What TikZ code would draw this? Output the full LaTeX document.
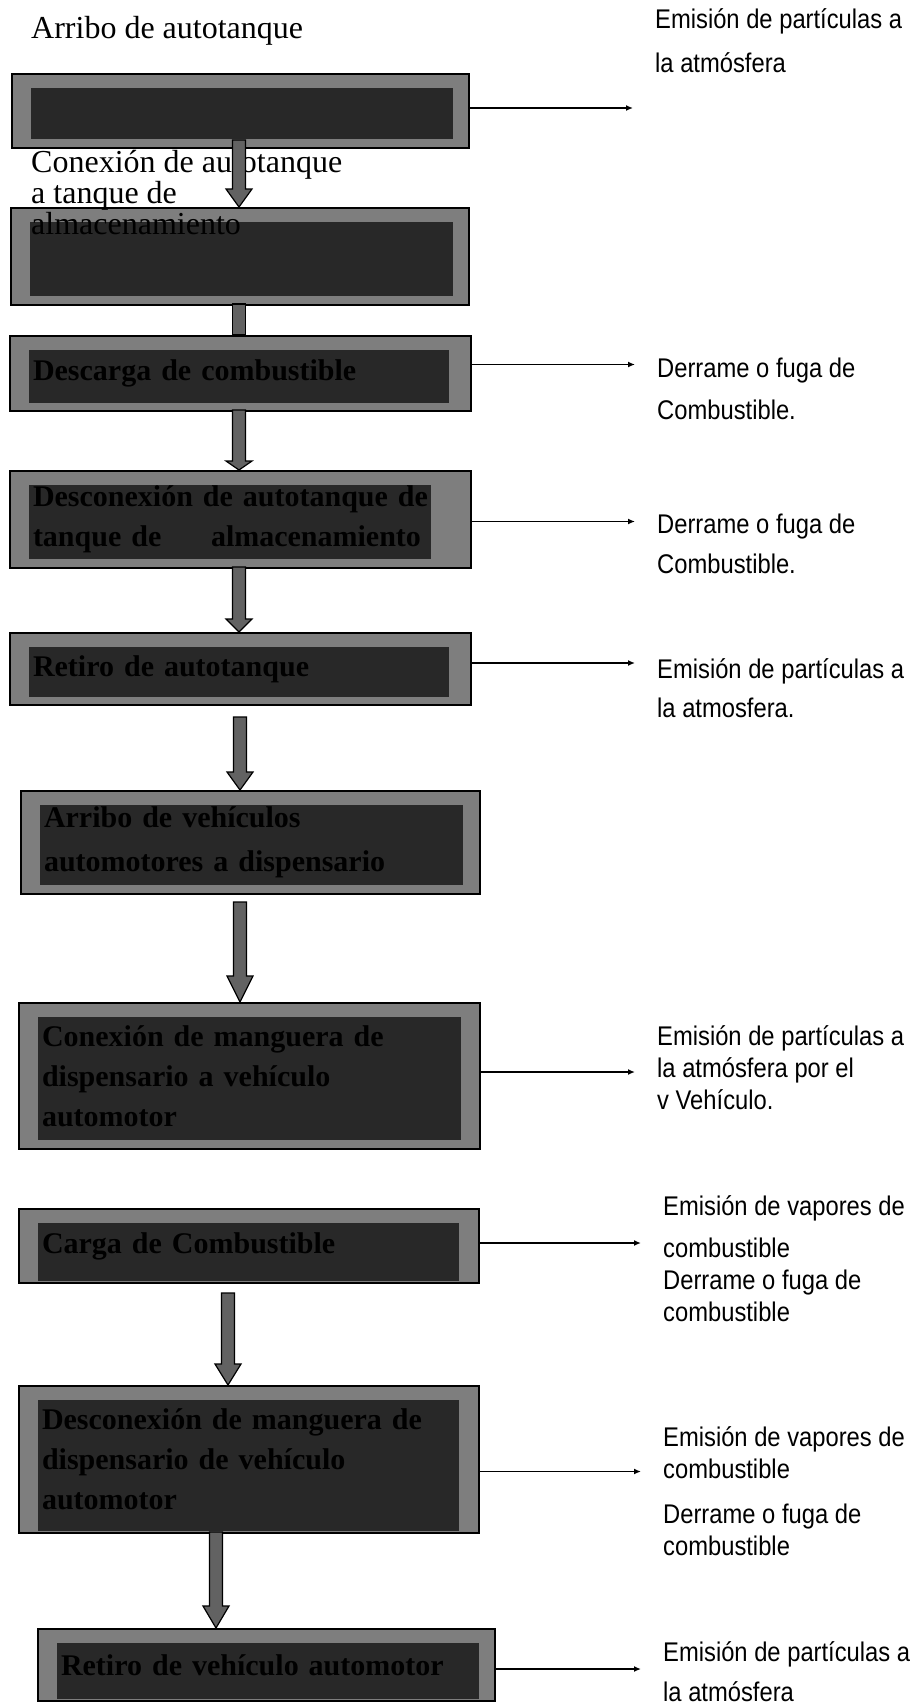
\documentclass[tikz,border=0pt]{standalone}
\usepackage{fontspec}
\setmainfont{Liberation Serif}
\newfontfamily\etiqfont[FakeStretch=0.88]{Liberation Sans}
\usepackage{tikz}
\usetikzlibrary{positioning}
\usetikzlibrary{calc}
\usetikzlibrary{arrows.meta}

\definecolor{banda}{RGB}{126,126,126}
\definecolor{fondo}{RGB}{40,40,40}
\definecolor{grisflecha}{RGB}{98,98,98}

\tikzset{
  abajo/.store in=\pasoabajo, abajo=9pt,
  derecha/.store in=\pasoderecha, derecha=17pt,
  paso/.style={draw=black, line width=2pt, fill=banda, anchor=north west,
    inner xsep=23pt, inner ysep=0pt, align=left,
    font=\bfseries\fontsize{30}{40}\selectfont,
    path picture={\fill[fondo] ($(path picture bounding box.south west)+(19pt,\pasoabajo)$)
      rectangle ($(path picture bounding box.north east)+(-\pasoderecha,-14pt)$);}},
  efecto/.style={anchor=base west, inner sep=0pt, align=left,
    font=\etiqfont\fontsize{27}{32}\selectfont},
  titulo/.style={anchor=base west, inner sep=0pt, align=left,
    font=\fontsize{32}{31}\selectfont},
  salida/.style={draw, line width=1.6pt, -{Latex[length=7pt,width=6pt]}, shorten >=22pt},
  bloque/.style={draw=black, line width=1.2pt, fill=grisflecha}
}

% flecha gruesa: [largo de punta]{inicio}{caja destino}
\newcommand{\flecha}[3][20]{%
  \draw[bloque] let \p1=(#2), \p2=(#2 |- #3.north) in
    (\x1-6.5pt,\y1) -- (\x1+6.5pt,\y1) -- (\x1+6.5pt,\y2+#1pt) -- (\x1+13pt,\y2+#1pt)
    -- (\x1,\y2) -- (\x1-13pt,\y2+#1pt) -- (\x1-6.5pt,\y2+#1pt) -- cycle;}

\begin{document}
\begin{tikzpicture}[x=1pt, y=-1pt]
\useasboundingbox (0,0) rectangle (918,1706);

\node[paso, abajo=9pt, derecha=16pt, minimum width=457, minimum height=74, text width=411] (b1) at (11,73) {};
\node[paso, abajo=9pt, derecha=16pt, minimum width=458, minimum height=97, text width=412] (b2) at (10,207) {};
\node[paso, abajo=8pt, derecha=22pt, minimum width=461, minimum height=75, text width=415] (b3) at (9,335) {Descarga de combustible};
\node[paso, abajo=9pt, derecha=40pt, minimum width=461, minimum height=97, text width=415] (b4) at (9,470)
  {Desconexión de autotanque de\\\hbox to 388pt{tanque de\hfill almacenamiento}};
\node[paso, abajo=8pt, derecha=22pt, minimum width=461, minimum height=72, text width=415] (b5) at (9,632) {Retiro de autotanque};
\node[paso, abajo=9pt, derecha=17pt, minimum width=459, minimum height=103, text width=413] (b6) at (20,790)
  {Arribo de vehículos\\[4pt]automotores a dispensario};
\node[paso, abajo=9pt, derecha=19pt, minimum width=461, minimum height=146, text width=415] (b7) at (18,1002)
  {Conexión de manguera de\\dispensario a vehículo\\automotor};
\node[paso, abajo=2pt, derecha=20pt, minimum width=460, minimum height=74, text width=414] (b8) at (18,1208) {Carga de Combustible};
\node[paso, abajo=2pt, derecha=20pt, minimum width=460, minimum height=147, text width=414] (b9) at (18,1385)
  {Desconexión de manguera de\\dispensario de vehículo\\automotor};
\node[paso, abajo=2pt, derecha=16pt, minimum width=457, minimum height=72, text width=411] (b10) at (37,1628) {Retiro de vehículo automotor};

\node[titulo] (t0) at (31,38) {Arribo de autotanque};
\node[titulo] (t1) at (31,234) {Conexión de autotanque\\a tanque de\\almacenamiento};

\coordinate (f1) at (239,140);
\coordinate (f2) at (239,304);
\coordinate (f3) at (239,410);
\coordinate (f4) at (239,567);
\coordinate (f5) at (240,717);
\coordinate (f6) at (240,902);
\coordinate (f7) at (228,1293);
\coordinate (f8) at (216,1532);

\flecha[18]{f1}{b2}
\draw[bloque] ($(f2)+(-6.5pt,0)$) rectangle ($(f2 |- b3.north)+(6.5pt,0)$);
\flecha[9]{f3}{b4}
\flecha[13]{f4}{b5}
\flecha[18]{f5}{b6}
\flecha[26]{f6}{b7}
\flecha[21]{f7}{b9}
\flecha[22]{f8}{b10}

\node[efecto] (e1) at (655,72) {Emisión de partículas a\\[12pt]la atmósfera};
\node[efecto] (e3) at (657,419) {Derrame o fuga de\\[10pt]Combustible.};
\node[efecto] (e4) at (657,573) {Derrame o fuga de\\[8pt]Combustible.};
\node[efecto] (e5) at (657,717) {Emisión de partículas a\\[7pt]la atmosfera.};
\node[efecto] (e7) at (657,1109) {Emisión de partículas a\\la atmósfera por el\\v Vehículo.};
\node[efecto] (e8) at (663,1321) {Emisión de vapores de\\[10pt]combustible\\Derrame o fuga de\\combustible};
\node[efecto] (e9) at (663,1555) {Emisión de vapores de\\combustible\\[13pt]Derrame o fuga de\\combustible};
\node[efecto] (e10) at (663,1701) {Emisión de partículas a\\[8pt]la atmósfera};

\draw[salida] ([yshift=3pt]b1.east) -- ([yshift=3pt]b1.east -| e1.west);
\draw[salida] ([yshift=9pt]b3.east) -- ([yshift=9pt]b3.east -| e3.west);
\draw[salida] ([yshift=-2pt]b4.east) -- ([yshift=-2pt]b4.east -| e4.west);
\draw[salida] ([yshift=6pt]b5.east) -- ([yshift=6pt]b5.east -| e5.west);
\draw[salida] ([yshift=4pt]b7.east) -- ([yshift=4pt]b7.east -| e7.west);
\draw[salida] ([yshift=3pt]b8.east) -- ([yshift=3pt]b8.east -| e8.west);
\draw[salida] ([yshift=-12pt]b9.east) -- ([yshift=-12pt]b9.east -| e9.west);
\draw[salida] ([yshift=-4pt]b10.east) -- ([yshift=-4pt]b10.east -| e10.west);
\end{tikzpicture}
\end{document}
